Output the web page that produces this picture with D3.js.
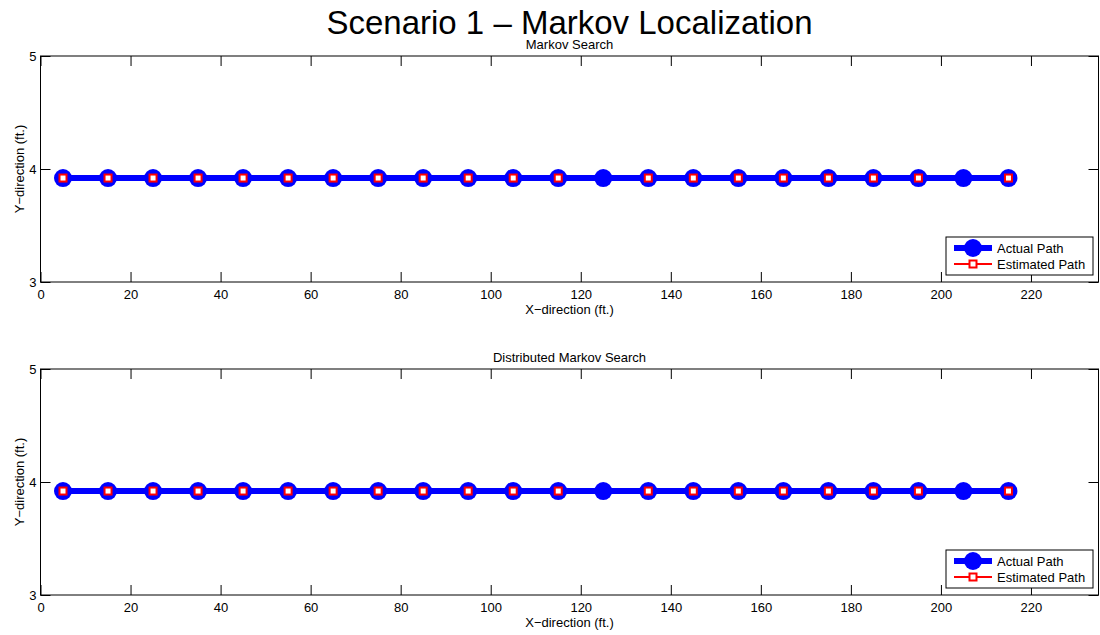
<!DOCTYPE html>
<html>
<head>
<meta charset="utf-8">
<script src="https://cdn.jsdelivr.net/npm/d3@7/dist/d3.min.js"></script>
<style>
  html, body { margin: 0; padding: 0; background: #fff; }
  svg { display: block; font-family: "Liberation Sans", Arial, sans-serif; }
</style>
</head>
<body>
<svg id="chart" width="1100" height="635"></svg>
<script>
// Robot path samples (ft.)
const xPositions = [5, 15, 25, 35, 45, 55, 65, 75, 85, 95, 105, 115, 125, 135, 145, 155, 165, 175, 185, 195, 205, 215];
const actualY = [3.92, 3.92, 3.92, 3.92, 3.92, 3.92, 3.92, 3.92, 3.92, 3.92, 3.92, 3.92, 3.92, 3.92, 3.92, 3.92, 3.92, 3.92, 3.92, 3.92, 3.92, 3.92];
// Estimates are missing at x = 125 and x = 205
const estimatedMarkovY = [3.92, 3.92, 3.92, 3.92, 3.92, 3.92, 3.92, 3.92, 3.92, 3.92, 3.92, 3.92, null, 3.92, 3.92, 3.92, 3.92, 3.92, 3.92, 3.92, null, 3.92];
const estimatedDistributedY = [3.92, 3.92, 3.92, 3.92, 3.92, 3.92, 3.92, 3.92, 3.92, 3.92, 3.92, 3.92, null, 3.92, 3.92, 3.92, 3.92, 3.92, 3.92, 3.92, null, 3.92];

const xTicks = [0, 20, 40, 60, 80, 100, 120, 140, 160, 180, 200, 220];
const yTicks = [3, 4, 5];
const xDomain = [0, 235];
const yDomain = [3, 5];

const panels = [
  { title: "Markov Search", top: 56, est: estimatedMarkovY },
  { title: "Distributed Markov Search", top: 369, est: estimatedDistributedY }
];

const svg = d3.select("#chart");
const left = 40.5, right = 1098.5, panelH = 226;
const tickLen = 10;
const fs = 13;

svg.append("text")
  .attr("x", (left + right) / 2).attr("y", 33.5)
  .attr("text-anchor", "middle")
  .attr("font-size", 33)
  .text("Scenario 1 \u2013 Markov Localization");

panels.forEach(p => {
  const top = p.top, bottom = top + panelH;
  const x = d3.scaleLinear().domain(xDomain).range([left, right]);
  const y = d3.scaleLinear().domain(yDomain).range([bottom, top]);
  const g = svg.append("g");

  // axes (box with inward ticks)
  const xb = d3.axisBottom(x).tickValues(xTicks).tickSize(-tickLen).tickFormat(d3.format("d"));
  const xt = d3.axisTop(x).tickValues(xTicks).tickSize(-tickLen).tickFormat("");
  const yl = d3.axisLeft(y).tickValues(yTicks).tickSize(-tickLen).tickFormat(d3.format("d"));
  const yr = d3.axisRight(y).tickValues(yTicks).tickSize(-tickLen).tickFormat("");

  const styleAxis = sel => {
    sel.select(".domain").remove();
    sel.selectAll("line").attr("stroke", "#000");
    sel.selectAll("text").attr("font-size", fs).attr("fill", "#000")
      .attr("font-family", "Liberation Sans, Arial, sans-serif");
  };
  g.append("g").attr("transform", `translate(0,${bottom})`).call(xb).call(styleAxis)
    .selectAll("text").attr("y", 17).attr("dy", "0");
  g.append("g").attr("transform", `translate(0,${top})`).call(xt).call(styleAxis);
  g.append("g").attr("transform", `translate(${left},0)`).call(yl).call(styleAxis)
    .selectAll("text").attr("x", -4).attr("dy", "0.36em");
  g.append("g").attr("transform", `translate(${right},0)`).call(yr).call(styleAxis);
  g.append("rect").attr("x", left).attr("y", top).attr("width", right - left).attr("height", panelH)
    .attr("fill", "none").attr("stroke", "#000").attr("stroke-width", 1);

  // titles / labels
  g.append("text").attr("x", (left + right) / 2).attr("y", top - 7)
    .attr("text-anchor", "middle").attr("font-size", fs).text(p.title);
  g.append("text").attr("x", (left + right) / 2).attr("y", bottom + 32)
    .attr("text-anchor", "middle").attr("font-size", fs).text("X\u2212direction (ft.)");
  g.append("text").attr("transform", `translate(23.5,${(top + bottom) / 2}) rotate(-90)`)
    .attr("text-anchor", "middle").attr("font-size", fs).text("Y\u2212direction (ft.)");

  const actual = xPositions.map((d, i) => ({ x: d, y: actualY[i] }));
  const est = xPositions.map((d, i) => ({ x: d, y: p.est[i] }));
  const line = d3.line().defined(d => d.y != null).x(d => x(d.x)).y(d => y(d.y));

  g.append("path").datum(est).attr("d", line).attr("fill", "none")
    .attr("stroke", "#ff0000").attr("stroke-width", 2);
  g.append("path").datum(actual).attr("d", line).attr("fill", "none")
    .attr("stroke", "#0000ff").attr("stroke-width", 6);
  g.selectAll("circle.act").data(actual).join("circle").attr("class", "act")
    .attr("cx", d => x(d.x)).attr("cy", d => y(d.y)).attr("r", 9).attr("fill", "#0000ff");
  const sq = 7;
  g.selectAll("rect.est").data(est.filter(d => d.y != null)).join("rect").attr("class", "est")
    .attr("x", d => x(d.x) - sq / 2).attr("y", d => y(d.y) - sq / 2)
    .attr("width", sq).attr("height", sq)
    .attr("fill", "#fff").attr("stroke", "#ff0000").attr("stroke-width", 2);

  // legend
  const lx = 946, ly = top + 181, lw = 147, lh = 38;
  const lg = g.append("g");
  lg.append("rect").attr("x", lx).attr("y", ly).attr("width", lw).attr("height", lh)
    .attr("fill", "#fff").attr("stroke", "#000").attr("stroke-width", 1);
  const r1 = ly + 11, r2 = ly + 27, sx0 = lx + 8, sx1 = lx + 46, sc = (sx0 + sx1) / 2;
  lg.append("line").attr("x1", sx0).attr("x2", sx1).attr("y1", r1).attr("y2", r1)
    .attr("stroke", "#0000ff").attr("stroke-width", 6);
  lg.append("circle").attr("cx", sc).attr("cy", r1).attr("r", 9).attr("fill", "#0000ff");
  lg.append("line").attr("x1", sx0).attr("x2", sx1).attr("y1", r2).attr("y2", r2)
    .attr("stroke", "#ff0000").attr("stroke-width", 2);
  lg.append("rect").attr("x", sc - sq / 2).attr("y", r2 - sq / 2).attr("width", sq).attr("height", sq)
    .attr("fill", "#fff").attr("stroke", "#ff0000").attr("stroke-width", 2);
  lg.append("text").attr("x", sx1 + 5).attr("y", r1 + 4.5).attr("font-size", fs).text("Actual Path");
  lg.append("text").attr("x", sx1 + 5).attr("y", r2 + 4.5).attr("font-size", fs).text("Estimated Path");
});
</script>
</body>
</html>
